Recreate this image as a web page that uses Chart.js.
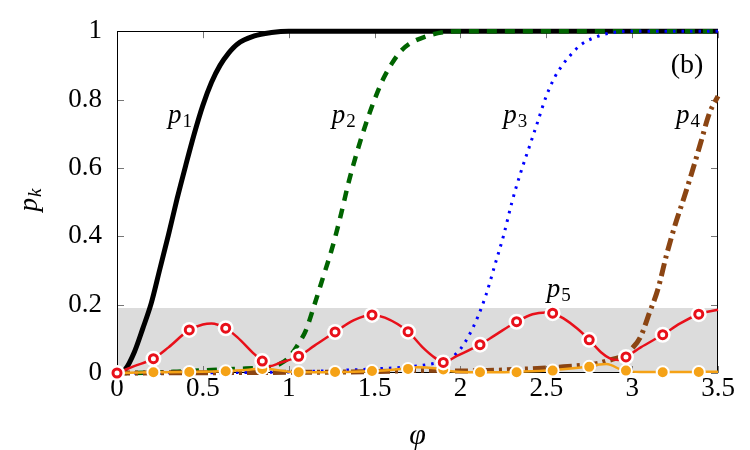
<!DOCTYPE html>
<html><head><meta charset="utf-8">
<script src="https://cdn.jsdelivr.net/npm/chart.js@4.4.1/dist/chart.umd.min.js"></script>
<style>html,body{margin:0;padding:0;background:#fff}</style>
</head><body>
<canvas id="c" width="750" height="450"></canvas>
<script>
// ---- data ----
const p1X = [0,0.05,0.1,0.15,0.2,0.25,0.3,0.35,0.4,0.45,0.5,0.55,0.6,0.65,0.7,0.8,0.9,1.0,1.5,2.0,2.5,3.0,3.5];
const p1Y = [0,0.012,0.06,0.13,0.205,0.305,0.405,0.51,0.607,0.70,0.783,0.85,0.90,0.936,0.962,0.986,0.996,1,1,1,1,1,1];

const p2X = [0,0.2,0.35,0.55,0.75,0.9,0.95,1.0,1.05,1.1,1.15,1.2,1.25,1.3,1.35,1.4,1.45,1.5,1.55,1.6,1.65,1.7,1.8,1.9,2.0,2.5,3.0,3.5];
const p2Y = [0,0.001,0.004,0.009,0.013,0.018,0.027,0.045,0.08,0.125,0.2,0.28,0.36,0.455,0.56,0.65,0.73,0.80,0.86,0.905,0.94,0.962,0.985,0.997,1,1,1,1];

const p3X = [0,1.0,1.3,1.5,1.7,1.8,1.9,1.95,2.0,2.05,2.1,2.15,2.2,2.25,2.3,2.35,2.4,2.45,2.5,2.55,2.6,2.65,2.7,2.8,2.9,3.0,3.5];
const p3Y = [0,0.003,0.008,0.012,0.018,0.024,0.035,0.046,0.07,0.11,0.163,0.23,0.315,0.40,0.50,0.585,0.66,0.735,0.81,0.866,0.905,0.935,0.96,0.985,0.997,1,1];

const p4X = [0,1.0,1.5,1.8,2.0,2.2,2.4,2.6,2.7,2.8,2.85,2.9,2.95,3.0,3.05,3.1,3.15,3.2,3.25,3.3,3.35,3.4,3.45,3.5];
const p4Y = [0,0.002,0.004,0.008,0.006,0.008,0.012,0.018,0.022,0.028,0.035,0.042,0.05,0.072,0.107,0.175,0.245,0.345,0.433,0.51,0.59,0.675,0.76,0.81];

const p5X = [0,0.1,0.212,0.3,0.421,0.5,0.55,0.633,0.7,0.8,0.846,0.89,0.95,1.058,1.15,1.27,1.38,1.485,1.56,1.695,1.78,1.85,1.9,1.98,2.114,2.2,2.327,2.42,2.5,2.537,2.6,2.68,2.75,2.82,2.87,2.92,2.964,3.05,3.178,3.28,3.388,3.5];
const p5Y = [0,0.02,0.042,0.075,0.126,0.142,0.145,0.131,0.105,0.055,0.035,0.02,0.03,0.049,0.08,0.12,0.155,0.17,0.162,0.121,0.075,0.045,0.031,0.05,0.083,0.11,0.15,0.172,0.177,0.175,0.16,0.13,0.097,0.06,0.043,0.038,0.047,0.075,0.112,0.145,0.172,0.185];

const p6X = [0,0.2,0.4,0.6,0.75,0.85,0.9,1.0,1.1,1.3,1.5,1.65,1.75,1.85,1.95,2.1,2.3,2.5,2.7,2.85,2.95,3.05,3.3,3.5];
const p6Y = [0,0.002,0.003,0.005,0.009,0.013,0.011,0.004,0.002,0.003,0.006,0.012,0.017,0.014,0.005,0.002,0.003,0.007,0.016,0.026,0.007,0.003,0.003,0.004];

const markX  = [0,0.212,0.421,0.633,0.846,1.058,1.27,1.485,1.695,1.90,2.114,2.327,2.537,2.75,2.964,3.178,3.388];
const mark5Y = [0,0.042,0.126,0.131,0.035,0.049,0.12,0.17,0.121,0.031,0.083,0.15,0.175,0.097,0.047,0.112,0.172];
const mark6Y = [0,0.002,0.003,0.005,0.012,0.002,0.003,0.006,0.012,0.01,0.002,0.002,0.007,0.018,0.007,0.002,0.003];

const shadeX = [0,3.5];
const shadeY = [0.19,0.19];

const xTicks = [0,0.5,1,1.5,2,2.5,3,3.5];
const yTicks = [0,0.2,0.4,0.6,0.8,1];

const curveLabelSubs = ['1','2','3','4','5'];
const curveLabelX = [0.297,1.25,2.25,3.256,2.503];
const curveLabelY = [0.731,0.731,0.731,0.731,0.222];

// ---- helpers ----
const pts = (xs, ys) => xs.map((v,i)=>({x:v,y:ys[i]}));
const SERIF = '"Liberation Serif", "DejaVu Serif", serif';
const fmt = v => String(Number(Number(v).toFixed(2)));

const lineBase = {showLine:true, pointRadius:0, pointHoverRadius:0, cubicInterpolationMode:'monotone', clip:false, fill:false};

const datasets = [
  {label:'shade', data:pts(shadeX,shadeY), showLine:true, fill:'origin', backgroundColor:'#dcdcdc', borderWidth:0, pointRadius:0, order:20},
  {label:'p1', data:pts(p1X,p1Y), ...lineBase, borderColor:'#000000', borderWidth:5, order:15},
  {label:'p2', data:pts(p2X,p2Y), ...lineBase, borderColor:'#006400', borderWidth:4.5, borderDash:[10,8], order:14},
  {label:'p3', data:pts(p3X,p3Y), ...lineBase, borderColor:'#0000ff', borderWidth:3, borderDash:[2.5,6], order:13},
  {label:'p4', data:pts(p4X,p4Y), ...lineBase, borderColor:'#8b4513', borderWidth:5, borderDash:[13,5,3,5], order:12},
  {label:'p6', data:pts(p6X,p6Y), ...lineBase, borderColor:'#f5a216', borderWidth:2.5, order:11},
  {label:'p5', data:pts(p5X,p5Y), ...lineBase, borderColor:'#e8101a', borderWidth:2.5, order:10},
  {label:'m6', data:pts(markX,mark6Y), showLine:false, pointRadius:6, pointBorderWidth:2, pointBackgroundColor:'#f5a216', pointBorderColor:'#ffffff', clip:false, order:9},
  {label:'halo5', data:pts(markX,mark5Y), showLine:false, pointRadius:8, pointBorderWidth:0, pointBackgroundColor:'#ffffff', pointBorderColor:'#ffffff', clip:false, order:8},
  {label:'m5', data:pts(markX,mark5Y), showLine:false, pointRadius:4, pointBorderWidth:3, pointBackgroundColor:'#ffffff', pointBorderColor:'#e8101a', clip:false, order:7}
];

function drawSub(ctx, main, sub, x, y, size, subSize, align) {
  ctx.font = 'italic ' + size + 'px ' + SERIF;
  const w1 = ctx.measureText(main).width;
  ctx.font = 'italic ' + subSize + 'px ' + SERIF;
  const w2 = ctx.measureText(sub).width;
  let x0 = x;
  if (align === 'center') x0 = x - (w1 + w2 + 1) / 2;
  ctx.font = 'italic ' + size + 'px ' + SERIF;
  ctx.fillText(main, x0, y);
  ctx.font = (/[0-9]/.test(sub) ? '' : 'italic ') + subSize + 'px ' + SERIF;
  ctx.fillText(sub, x0 + w1 + 1, y + 4);
}

const framePlugin = {
  id:'frame',
  afterDatasetDraw(chart, args) {
    if (args.index !== 0) return;
    const {ctx, chartArea:a, scales:{x, y}} = chart;
    ctx.save();
    ctx.strokeStyle = '#777'; ctx.lineWidth = 1;
    ctx.beginPath();
    xTicks.forEach(v => {
      const px = Math.round(x.getPixelForValue(v)) + 0.5;
      ctx.moveTo(px, a.bottom); ctx.lineTo(px, a.bottom - 7);
      ctx.moveTo(px, a.top); ctx.lineTo(px, a.top + 7);
    });
    yTicks.forEach(v => {
      const py = Math.round(y.getPixelForValue(v)) + 0.5;
      ctx.moveTo(a.left, py); ctx.lineTo(a.left + 7, py);
      ctx.moveTo(a.right, py); ctx.lineTo(a.right - 7, py);
    });
    ctx.stroke();
    ctx.strokeStyle = '#000'; ctx.lineWidth = 1;
    ctx.strokeRect(Math.round(a.left) + 0.5, Math.round(a.top) + 0.5, Math.round(a.width) - 1, Math.round(a.height) - 1);
    ctx.restore();
  }
};

const textPlugin = {
  id:'texts',
  afterDatasetsDraw(chart) {
    const {ctx, scales:{x, y}} = chart;
    ctx.save();
    ctx.fillStyle = '#000';
    ctx.textBaseline = 'alphabetic';
    ctx.textAlign = 'left';
    curveLabelSubs.forEach((s, i) => {
      drawSub(ctx, 'p', s, x.getPixelForValue(curveLabelX[i]), y.getPixelForValue(curveLabelY[i]), 27, 19, 'left');
    });
    ctx.font = '28px ' + SERIF;
    ctx.textAlign = 'center'; ctx.textBaseline = 'middle';
    ctx.fillText('(b)', x.getPixelForValue(3.32), y.getPixelForValue(0.9));
    // axis titles
    ctx.font = 'italic 30px ' + SERIF;
    ctx.fillText('\u03C6', (chart.chartArea.left + chart.chartArea.right) / 2, 436);
    ctx.translate(37, 200);
    ctx.rotate(-Math.PI / 2);
    ctx.textAlign = 'left'; ctx.textBaseline = 'alphabetic';
    drawSub(ctx, 'p', 'k', 0, 0, 27, 19, 'center');
    ctx.restore();
  }
};

new Chart(document.getElementById('c'), {
  type:'scatter',
  data:{datasets},
  options:{
    responsive:false, animation:false, devicePixelRatio:1,
    layout:{padding:{left:0, top:27, right:32, bottom:0}},
    plugins:{legend:{display:false}, tooltip:{enabled:false}},
    scales:{
      x:{type:'linear', min:0, max:3.5,
         afterBuildTicks(s){ s.ticks = xTicks.map(v=>({value:v})); },
         afterFit(s){ s.height = 77; },
         grid:{display:false, drawTicks:false}, border:{display:false},
         ticks:{color:'#000', padding:0, font:{family:SERIF, size:27}, maxRotation:0, autoSkip:false, callback:fmt}},
      y:{type:'linear', min:0, max:1,
         afterBuildTicks(s){ s.ticks = yTicks.map(v=>({value:v})); },
         afterFit(s){ s.width = 117; },
         grid:{display:false, drawTicks:false}, border:{display:false},
         ticks:{color:'#000', padding:15, font:{family:SERIF, size:27}, autoSkip:false, callback:fmt}}
    }
  },
  plugins:[framePlugin, textPlugin]
});
</script>
</body></html>
